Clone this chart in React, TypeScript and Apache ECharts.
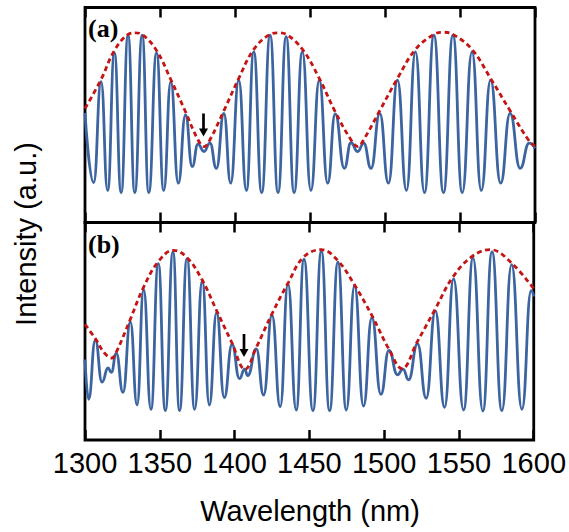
import React, { useEffect, useRef } from "react";
import * as echarts from "echarts";

// ---- Data ----
const xTicks = [1300, 1600, 50]; // min, max, step (nm)

// Panel (a): fringe extrema (wavelength nm, intensity a.u.)
const fringeAWavelength = [1300, 1305.8, 1310.7, 1315.1, 1319.6, 1324.1, 1328.7, 1333.2, 1338.1, 1342.5, 1347.7, 1352.5, 1357.2, 1362.2, 1367.0, 1371.5, 1375.3, 1379.3, 1383.3, 1387.6, 1392.6, 1397.1, 1402.5, 1407.6, 1412.5, 1417.8, 1423.4, 1428.7, 1434.1, 1439.4, 1444.9, 1450.6, 1456.2, 1461.8, 1466.8, 1472.9, 1477.3, 1481.8, 1485.8, 1490.7, 1496.5, 1502.3, 1508.3, 1514.3, 1520.3, 1526.3, 1532.6, 1539.0, 1545.3, 1551.5, 1558.0, 1564.2, 1570.4, 1577.1, 1583.4, 1590.1, 1596.1, 1600];
const fringeAIntensity = [51, 18.6, 65.5, 14.9, 78.9, 13.9, 87.1, 13.9, 87.1, 13.9, 78.9, 14.9, 65.5, 18.3, 50.0, 26.0, 36.5, 33.0, 36.9, 25.2, 50.8, 18.3, 66.2, 14.9, 79.4, 13.9, 87.1, 13.9, 86.4, 13.9, 79.4, 14.9, 66.2, 18.3, 50.5, 25.2, 37.1, 33.0, 36.9, 25.2, 50.8, 18.3, 66.2, 14.9, 79.4, 13.9, 87.1, 13.9, 87.1, 13.9, 79.4, 14.9, 66.2, 18.3, 50.8, 25.2, 36.9, 34.5];

// Panel (a): envelope
const envAWavelength = [1300, 1310.7, 1319.6, 1328.7, 1333.5, 1338, 1347.7, 1357.2, 1367, 1375.3, 1379.5, 1383.3, 1392.6, 1402.5, 1412.5, 1423.4, 1429, 1434.1, 1445, 1456.2, 1466.8, 1477.3, 1482, 1485.8, 1496.5, 1508.3, 1520.3, 1532.6, 1539, 1545.3, 1558, 1570.4, 1583.4, 1596, 1600];
const envAIntensity = [53, 66.5, 80, 87.5, 88.2, 87.5, 80, 66.5, 51.5, 38.5, 35.3, 38.5, 52, 67, 80.5, 87.5, 88.2, 87.5, 80.5, 67, 51.5, 38.5, 35.3, 38.5, 52, 67, 80.5, 87.5, 88.5, 87.5, 80.5, 67, 52, 38, 35.5];

// Panel (b): fringe extrema
const fringeBWavelength = [1300, 1302.4, 1306.9, 1311.4, 1315.4, 1317.6, 1320.9, 1325.4, 1330.3, 1334.8, 1339.2, 1344.1, 1349.0, 1353.7, 1358.8, 1363.2, 1368.2, 1373.3, 1378.4, 1383.1, 1388.0, 1393.1, 1398.3, 1403.3, 1406.7, 1408.8, 1414.5, 1419.4, 1425.0, 1430.5, 1435.7, 1441.2, 1446.4, 1452.4, 1458.0, 1463.5, 1469.1, 1474.7, 1480.2, 1486.2, 1491.8, 1497.8, 1503.2, 1508.9, 1512.6, 1516.3, 1522.3, 1528.1, 1534.2, 1540.4, 1546.4, 1553.1, 1559.4, 1566.0, 1572.1, 1578.7, 1585.2, 1592.1, 1598.3, 1600];
const fringeBIntensity = [37, 18.7, 45.9, 26.6, 33.1, 31.1, 39.8, 21.9, 54.3, 16.1, 69.1, 14.1, 81.1, 13.5, 86.5, 13.5, 83.4, 14.1, 73.3, 16.1, 58.6, 19.5, 43.9, 28.2, 32.6, 29.6, 41.9, 20.7, 57.4, 15.3, 71.8, 13.8, 83.1, 13.5, 86.8, 13.5, 81.8, 13.8, 71.0, 15.6, 56.3, 21.0, 41.2, 30.0, 32.6, 27.7, 44.2, 19.2, 59.4, 15.0, 74.1, 13.8, 83.7, 13.3, 86.5, 13.5, 80.6, 14.1, 68.7, 66];

// Panel (b): envelope
const envBWavelength = [1300, 1307, 1313, 1318, 1321, 1330, 1339, 1349, 1359, 1368, 1378, 1388, 1398, 1407, 1414.5, 1425, 1436, 1446, 1458, 1469, 1480, 1492, 1503, 1512, 1522, 1534, 1546, 1559, 1571, 1585, 1600];
const envBIntensity = [53.2, 46.5, 40, 37.7, 40.5, 55, 70, 82, 87.2, 84, 74, 59.5, 45, 32.5, 42.5, 58, 72.5, 84, 87.5, 82.5, 71.5, 57, 42, 32.8, 45, 60, 75, 84.5, 87.5, 81.5, 69.5];

// Arrow annotations (wavelength, intensity of arrow centre)
const arrowA = [1379, 45.4];
const arrowB = [1406.3, 43.5];

const panelLabels = ["(a)", "(b)"];
const xAxisTitle = "Wavelength (nm)";
const yAxisTitle = "Intensity (a.u.)";

const zip = (xs: number[], ys: number[]) => xs.map((x, i) => [x, ys[i]]);

const BLUE = "#3b64a0";
const RED = "#c41414";

export default function App() {
  const ref = useRef<HTMLDivElement>(null);
  useEffect(() => {
    if (!ref.current) return;
    const chart = echarts.init(ref.current, undefined, { renderer: "svg" });
    const [xmin, xmax, xstep] = xTicks;
    const mkX = (grid: number, position: "top" | "bottom", labels: boolean) => ({
      type: "value",
      gridIndex: grid,
      position,
      min: xmin,
      max: xmax,
      interval: xstep,
      axisLine: { show: false },
      splitLine: { show: false },
      axisTick: { show: true, inside: true, length: 10, lineStyle: { color: "#000", width: 2.5 } },
      axisLabel: {
        show: labels,
        color: "#000",
        fontSize: 29,
        fontFamily: "Liberation Sans, Arial, sans-serif",
        margin: 8,
        showMinLabel: true,
        showMaxLabel: true,
        formatter: (v: number) => String(v),
      },
    });
    const mkY = (grid: number) => ({
      type: "value",
      gridIndex: grid,
      min: 0,
      max: 100,
      show: false,
    });
    const grid = {
      show: true,
      borderColor: "#000",
      borderWidth: 2.8,
      backgroundColor: "transparent",
      left: 85,
      right: 34,
    };
    const fringe = (x: number, data: number[][]) => ({
      type: "line",
      xAxisIndex: x,
      yAxisIndex: x === 0 ? 0 : 1,
      data,
      showSymbol: false,
      symbol: "none",
      smooth: 0.5,
      smoothMonotone: "x",
      lineStyle: { color: BLUE, width: 2.8 },
      z: 2,
    });
    const env = (x: number, data: number[][]) => ({
      type: "line",
      xAxisIndex: x,
      yAxisIndex: x === 0 ? 0 : 1,
      data,
      showSymbol: false,
      symbol: "none",
      smooth: 0.4,
      lineStyle: { color: RED, width: 2.8, type: [5, 3.5] },
      z: 3,
    });
    const arrowPath = "path://M2.8,0L5.2,0L5.2,15L8,15L4,23L0,15L2.8,15Z";
    const arrow = (x: number, pt: number[]) => ({
      type: "scatter",
      xAxisIndex: x,
      yAxisIndex: x === 0 ? 0 : 1,
      data: [pt],
      symbol: arrowPath,
      symbolSize: [9, 23],
      itemStyle: { color: "#000", opacity: 1 },
      z: 4,
      silent: true,
    });
    const serifLabel = {
      fontSize: 26,
      fontWeight: "bold",
      fontFamily: "Liberation Serif, Times New Roman, serif",
      fill: "#000",
    };
    chart.setOption({
      animation: false,
      backgroundColor: "#fff",
      grid: [
        { ...grid, top: 7.5, height: 215 },
        { ...grid, top: 222.5, height: 217.5 },
      ],
      xAxis: [mkX(0, "bottom", false), mkX(1, "bottom", true), mkX(0, "top", false), mkX(1, "top", false)],
      yAxis: [mkY(0), mkY(1)],
      series: [
        fringe(0, zip(fringeAWavelength, fringeAIntensity)),
        env(0, zip(envAWavelength, envAIntensity)),
        arrow(0, arrowA),
        fringe(1, zip(fringeBWavelength, fringeBIntensity)),
        env(1, zip(envBWavelength, envBIntensity)),
        arrow(1, arrowB),
      ],
      graphic: [
        {
          type: "text",
          x: 88,
          y: 28,
          style: { ...serifLabel, text: panelLabels[0], align: "left", verticalAlign: "middle" },
          z: 10,
        },
        {
          type: "text",
          x: 88,
          y: 244,
          style: { ...serifLabel, text: panelLabels[1], align: "left", verticalAlign: "middle" },
          z: 10,
        },
        {
          type: "text",
          x: 310,
          y: 510.5,
          style: {
            text: xAxisTitle,
            fontSize: 29,
            fontFamily: "Liberation Sans, Arial, sans-serif",
            fill: "#000",
            align: "center",
            verticalAlign: "middle",
          },
        },
        {
          type: "text",
          x: 25.5,
          y: 234,
          rotation: Math.PI / 2,
          style: {
            text: yAxisTitle,
            fontSize: 29,
            fontFamily: "Liberation Sans, Arial, sans-serif",
            fill: "#000",
            align: "center",
            verticalAlign: "middle",
          },
        },
      ],
    } as any);
    return () => chart.dispose();
  }, []);
  return (
    <div
      ref={ref}
      style={{ position: "absolute", left: 0, top: 0, width: 569, height: 532 }}
    />
  );
}
